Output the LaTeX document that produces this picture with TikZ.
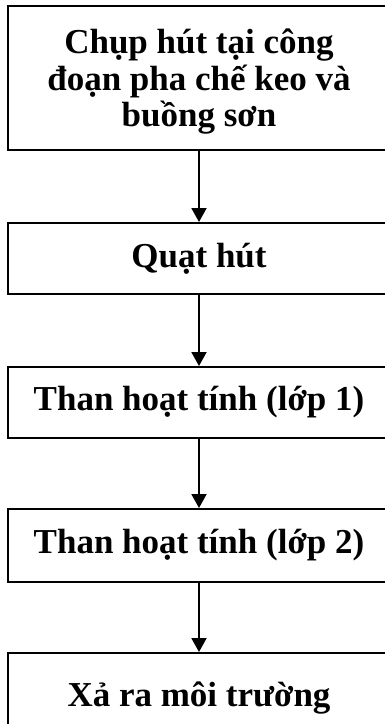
\documentclass[tikz,border=0pt]{standalone}
\usepackage{fontspec}
\setmainfont{Liberation Serif}
\usetikzlibrary{arrows.meta}
\begin{document}
\begin{tikzpicture}[x=1pt,y=-1pt,
  stepbox/.style={draw, line width=2pt, minimum width=382pt, inner sep=0pt,
    font=\fontsize{35}{36.8}\selectfont\bfseries, align=center},
  flow/.style={line width=2pt, -{Triangle[width=15pt,length=14pt]}}]
\useasboundingbox (0,0) rectangle (384,724);
\node[stepbox, minimum height=144pt] (b1) at (199,78) {\rule{0pt}{32pt}Chụp hút tại công\\đoạn pha chế keo và\\buồng sơn};
\node[stepbox, minimum height=71pt] (b2) at (199,258.5) {Quạt hút};
\node[stepbox, minimum height=71pt] (b3) at (199,402.5) {Than hoạt tính (lớp 1)};
\node[stepbox, minimum height=73pt] (b4) at (199,545.5) {Than hoạt tính (lớp 2)};
\node[stepbox, minimum height=90pt] (b5) at (199,698) {Xả ra môi trường};
\draw[flow] (b1) -- (b2);
\draw[flow] (b2) -- (b3);
\draw[flow] (b3) -- (b4);
\draw[flow] (b4) -- (b5);
\end{tikzpicture}
\end{document}
